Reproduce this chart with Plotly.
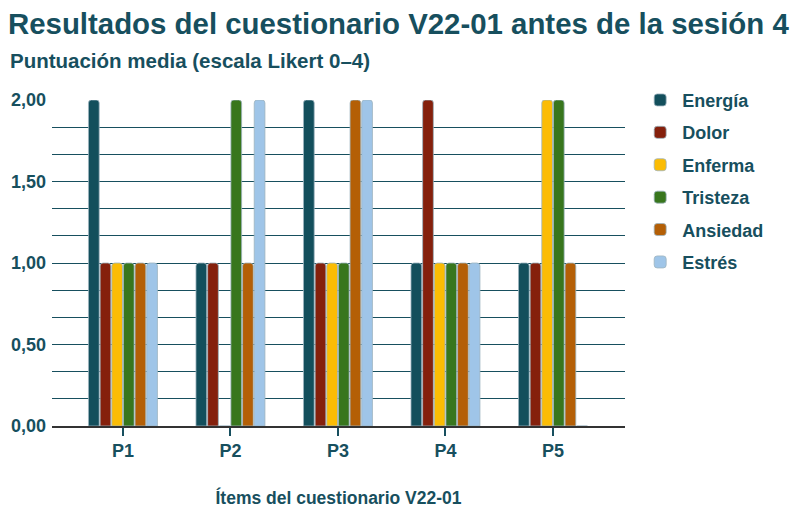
import plotly.graph_objects as go

items = ['P1', 'P2', 'P3', 'P4', 'P5']
energia = [2, 1, 2, 1, 1]
dolor = [1, 1, 1, 2, 1]
enferma = [1, 0, 1, 1, 2]
tristeza = [1, 2, 1, 1, 2]
ansiedad = [1, 1, 2, 1, 1]
estres = [1, 2, 2, 1, 0]

series = [
    ('Energía', energia, '#134f5c'),
    ('Dolor', dolor, '#85200c'),
    ('Enferma', enferma, '#fbbc04'),
    ('Tristeza', tristeza, '#38761d'),
    ('Ansiedad', ansiedad, '#b45f06'),
    ('Estrés', estres, '#9fc5e8'),
]

teal = '#174f5e'
font = 'Liberation Sans'

fig = go.Figure()
for i, (name, vals, color) in enumerate(series):
    fig.add_trace(go.Bar(name=name, x=items, y=vals, legendgroup=str(i),
                         marker=dict(color=color, line=dict(color='#9db4bf', width=0.8))))

# page has an 8px body margin, so the figure is drawn at (8, 8)
fig.update_layout(
    template='none',
    width=790, height=500,
    margin=dict(l=44, r=173, t=92, b=82),
    plot_bgcolor='white', paper_bgcolor='white',
    font=dict(family=font, color=teal),
    separators=',.',
    barmode='group', bargap=0.35, bargroupgap=0.08, barcornerradius=3,
    legend=dict(x=1.023, y=1.056, xanchor='left', yanchor='top',
                font=dict(size=18, color=teal, weight='bold'),
                tracegroupgap=6, itemwidth=34),
    xaxis=dict(range=[-0.66, 4.67], ticks='outside', ticklen=8, tickwidth=2, tickcolor=teal,
               showline=True, linecolor='#333333', linewidth=1.5, automargin=False,
               showgrid=False,
               tickfont=dict(size=18, color=teal, weight='bold'),
               title=dict(text='Ítems del cuestionario V22-01', standoff=32,
                          font=dict(size=17.5, color=teal, weight='bold'))),
    yaxis=dict(range=[0, 2], dtick=0.5, tick0=0, tickformat='.2f', ticks='',
               gridcolor=teal, gridwidth=1.3, zeroline=False, automargin=False,
               ticklabelstandoff=5, showline=False,
               tickfont=dict(size=18, color=teal, weight='bold'),
               minor=dict(dtick=0.5 / 3, showgrid=True, gridcolor=teal, gridwidth=1.3)),
    title=dict(text='Resultados del cuestionario V22-01 antes de la sesión 4',
               x=0, xanchor='left', xref='container', y=0.968, yanchor='middle', yref='container',
               font=dict(size=29.4, color=teal, weight='bold')),
    annotations=[dict(text='Puntuación media (escala Likert 0–4)', xref='paper', yref='paper',
                      x=-0.0768, y=1.12, xanchor='left', yanchor='middle', showarrow=False,
                      font=dict(size=20.5, color=teal, weight='bold'))],
)

fig.write_html('out.html')
